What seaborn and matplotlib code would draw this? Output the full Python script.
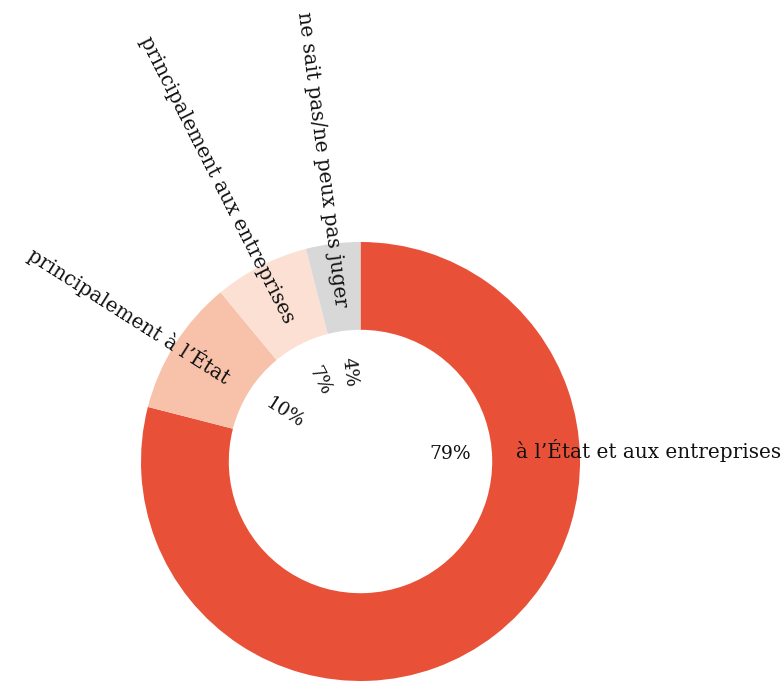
import numpy as np
import matplotlib
matplotlib.use("Agg")
import matplotlib.pyplot as plt
import seaborn as sns

# Survey answers, clockwise from 12 o'clock
categories = [
    "à l’État et aux entreprises",
    "principalement à l’État",
    "principalement aux entreprises",
    "ne sait pas/ne peux pas juger",
]
shares = [79, 10, 7, 4]
pct_labels = ["79%", "10%", "7%", "4%"]
colors = ["#E95038", "#F8C1AA", "#FCE0D4", "#D8D8D8"]

sns.set_theme(style="white")
plt.rcParams["font.family"] = ["DejaVu Serif"]

W, H = 782, 682
fig = plt.figure(figsize=(W / 100, H / 100), dpi=100)
ax = fig.add_axes([0, 0, 1, 1])

cx, cy = 360.5, H - 461.5
R = 219.5
ring = 0.4

ax.pie(shares, colors=colors, startangle=90, counterclock=False,
       center=(cx, cy), radius=R, frame=True,
       wedgeprops=dict(width=R * ring, linewidth=0))

ax.set_xlim(0, W)
ax.set_ylim(0, H)
ax.set_aspect("equal")
ax.axis("off")

# label direction for each slice: middle of the wedge, the large slice
# gets a horizontal label on the right
total = float(sum(shares))
cum = np.cumsum([0] + shares[:-1])
mids = [90 - 360 * (c + v / 2) / total for c, v in zip(cum, shares)]
mids = [((m + 180) % 360) - 180 for m in mids]
mids[0] = 5.0

r_lab, r_pct = 156, 90
for i, (name, pct, ang) in enumerate(zip(categories, pct_labels, mids)):
    t = np.deg2rad(ang)
    left = abs(ang) > 90
    rot = 0 if i == 0 else (ang - 180 if left else ang)
    ax.text(cx + r_lab * np.cos(t), cy + r_lab * np.sin(t) - (3 if i == 0 else 0),
            name, rotation=rot, rotation_mode="anchor",
            ha="right" if left else "left", va="center",
            fontsize=14.4, color="#111111")
    ax.text(cx + r_pct * np.cos(t), cy + r_pct * np.sin(t), pct,
            rotation=rot, rotation_mode="anchor",
            ha="center", va="center", fontsize=13.5, color="#111111")

fig.savefig("out.png", dpi=100, facecolor="white")
